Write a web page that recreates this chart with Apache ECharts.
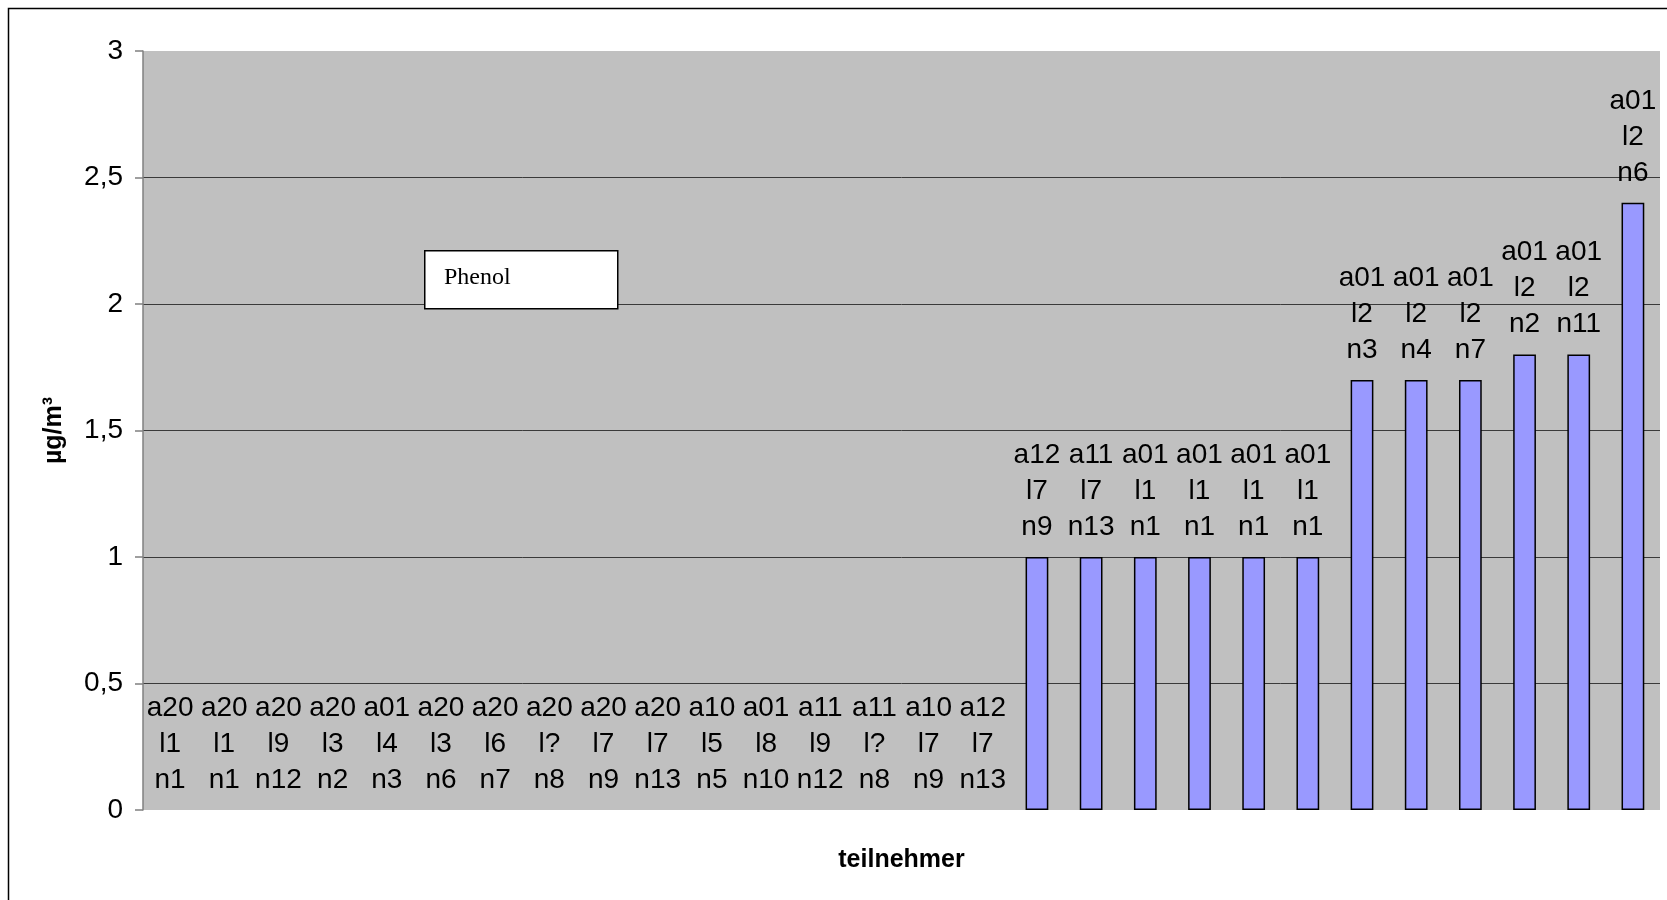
<!DOCTYPE html>
<html>
<head>
<meta charset="utf-8">
<script src="https://cdn.jsdelivr.net/npm/echarts@6/dist/echarts.min.js"></script>
<style>
  html, body { margin: 0; padding: 0; background: #fff; }
  #main { width: 1667px; height: 900px; }
</style>
</head>
<body>
<div id="main"></div>
<script>
// teilnehmer (a / l / n codes)
var categories = [
  'a20 l1 n1', 'a20 l1 n1', 'a20 l9 n12', 'a20 l3 n2', 'a01 l4 n3', 'a20 l3 n6',
  'a20 l6 n7', 'a20 l? n8', 'a20 l7 n9', 'a20 l7 n13', 'a10 l5 n5', 'a01 l8 n10',
  'a11 l9 n12', 'a11 l? n8', 'a10 l7 n9', 'a12 l7 n13',
  'a12 l7 n9', 'a11 l7 n13', 'a01 l1 n1', 'a01 l1 n1', 'a01 l1 n1', 'a01 l1 n1',
  'a01 l2 n3', 'a01 l2 n4', 'a01 l2 n7', 'a01 l2 n2', 'a01 l2 n11', 'a01 l2 n6'
];
// Phenol, µg/m³
var values = [
  0, 0, 0, 0, 0, 0, 0, 0, 0, 0, 0, 0, 0, 0, 0, 0,
  1, 1, 1, 1, 1, 1,
  1.7, 1.7, 1.7, 1.8, 1.8, 2.4
];
var yTicks = [0, 0.5, 1, 1.5, 2, 2.5, 3];

var chart = echarts.init(document.getElementById('main'));
var font = "'Liberation Sans', Arial, sans-serif";

// zero values: no outline, only the label stays visible
var barData = values.map(function (v) {
  return v === 0 ? { value: v, itemStyle: { borderWidth: 0 } } : v;
});

// grid lines: none at 0 and at the top
var splitColors = yTicks.map(function (t, i) {
  return (i === 0 || i === yTicks.length - 1) ? 'rgba(0,0,0,0)' : '#3a3a3a';
});

chart.setOption({
  animation: false,
  backgroundColor: '#fff',
  grid: {
    left: 143, right: 7, top: 51, bottom: 90,
    show: true, backgroundColor: '#c0c0c0', borderWidth: 0
  },
  graphic: [
    {
      type: 'rect', left: 6, top: 6, z: -10, silent: true,
      shape: { width: 1700, height: 1000 },
      style: { fill: null, stroke: '#000', lineWidth: 1.5 }
    },
    {
      type: 'rect', left: 424, top: 250, z: 100, silent: true,
      shape: { width: 193, height: 58 },
      style: { fill: '#fff', stroke: '#000', lineWidth: 1.5 }
    },
    {
      type: 'text', left: 444, top: 266, z: 101, silent: true,
      style: { text: 'Phenol', font: "24px 'Liberation Serif', 'Times New Roman', serif", fill: '#000' }
    }
  ],
  xAxis: {
    type: 'category',
    data: categories,
    name: 'teilnehmer',
    nameLocation: 'middle',
    nameGap: 38,
    nameTextStyle: { fontFamily: font, fontWeight: 'bold', fontSize: 25, color: '#000' },
    axisLine: { show: false },
    axisTick: { show: false },
    axisLabel: { show: false }
  },
  yAxis: {
    type: 'value',
    min: 0, max: 3, interval: 0.5,
    name: 'µg/m³',
    nameLocation: 'middle',
    nameGap: 76,
    nameTextStyle: { fontFamily: font, fontWeight: 'bold', fontSize: 25, color: '#000' },
    axisLine: { show: true, lineStyle: { color: '#808080', width: 1.5 } },
    axisTick: { show: true, length: 8, lineStyle: { color: '#808080', width: 1.5 } },
    axisLabel: {
      margin: 20, color: '#000', fontFamily: font, fontSize: 28,
      formatter: function (v) { return String(v).replace('.', ','); }
    },
    splitLine: { show: true, lineStyle: { color: splitColors, width: 1 } }
  },
  series: [{
    type: 'bar',
    data: barData,
    barWidth: '42%',
    itemStyle: { color: '#9999ff', borderColor: '#000', borderWidth: 1.5 },
    label: {
      show: true,
      position: 'top',
      distance: 12,
      color: '#000',
      fontFamily: font,
      fontSize: 28,
      lineHeight: 36,
      formatter: function (p) { return p.name.split(' ').join('\n'); }
    }
  }]
});
</script>
</body>
</html>
